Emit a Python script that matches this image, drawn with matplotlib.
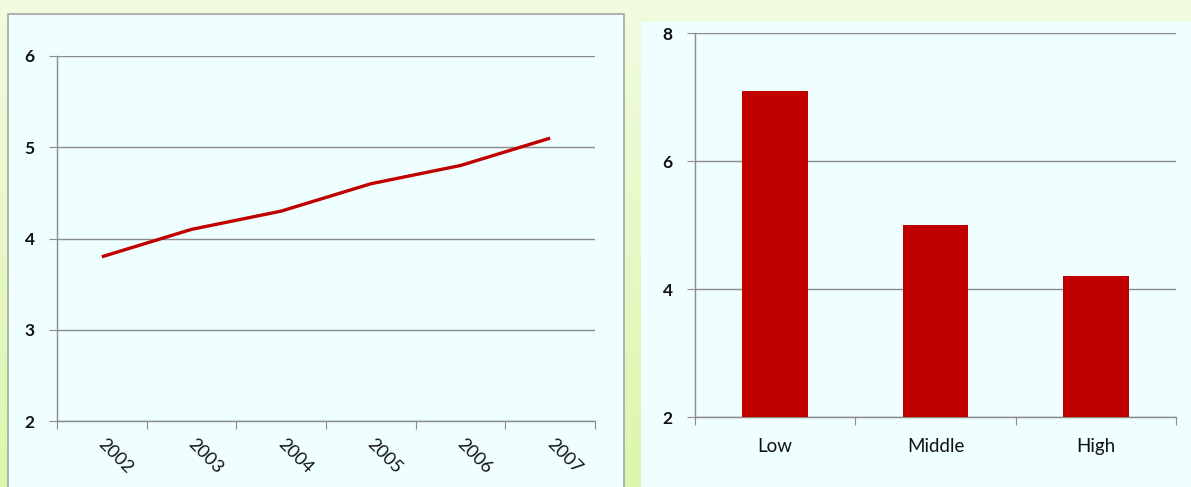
import numpy as np
import matplotlib
matplotlib.use("Agg")
import matplotlib.pyplot as plt
from matplotlib.patches import Rectangle
from matplotlib.colors import LinearSegmentedColormap
from matplotlib.transforms import ScaledTranslation

years = ["2002", "2003", "2004", "2005", "2006", "2007"]
line_values = [3.8, 4.1, 4.3, 4.6, 4.8, 5.1]
groups = ["Low", "Middle", "High"]
bar_values = [7.1, 5.0, 4.2]
left_yticks = [2, 3, 4, 5, 6]
right_yticks = [2, 4, 6, 8]

RED = "#c00000"
GRID = "#8c8c8c"
PANEL = "#effefe"
FONT = ["Lato", "DejaVu Sans"]

plt.rcParams["font.family"] = FONT

W, H = 1191, 487
fig = plt.figure(figsize=(W / 100, H / 100), dpi=100)

# background gradient
bg = fig.add_axes([0, 0, 1, 1], zorder=-10)
grad = np.linspace(0, 1, 256).reshape(-1, 1)
cmap = LinearSegmentedColormap.from_list("g", ["#f1fbe0", "#dcf6ac"])
bg.imshow(grad, aspect="auto", cmap=cmap, extent=[0, 1, 0, 1], origin="upper")
bg.set_axis_off()

# panels
fig.patches.append(Rectangle((8 / W, -0.05), 616 / W, 1.05 - 14 / H,
                             transform=fig.transFigure, facecolor=PANEL,
                             edgecolor="#a6a6a6", lw=1.2, zorder=-5))
fig.patches.append(Rectangle((641 / W, -0.05), 0.5, 1.05 - 22 / H,
                             transform=fig.transFigure, facecolor=PANEL,
                             edgecolor="none", zorder=-5))


def style(ax, yticks):
    ax.set_facecolor("none")
    for s in ["top", "right"]:
        ax.spines[s].set_visible(False)
    for s in ["left", "bottom"]:
        ax.spines[s].set_color(GRID)
        ax.spines[s].set_linewidth(1.0)
    ax.yaxis.grid(True, color=GRID, lw=1.0)
    ax.set_axisbelow(True)
    ax.set_yticks(yticks)
    ax.tick_params(axis="y", length=6, color=GRID, pad=10, labelsize=12.5,
                   labelcolor="#111111")


# left line chart
ax1 = fig.add_axes([57 / W, 1 - 421 / H, 538 / W, 365 / H])
x = np.arange(len(years))
ax1.plot(x, line_values, color=RED, lw=2.4, solid_capstyle="butt", zorder=3)
ax1.set_xlim(-0.5, len(years) - 0.5)
ax1.set_ylim(2, 6)
ax1.set_xticks(np.arange(-0.5, len(years)), minor=False)
ax1.set_xticklabels([])
ax1.set_xticks(x, minor=True)
ax1.set_xticklabels(years, minor=True, rotation=-45, ha="left", va="top",
                    rotation_mode="anchor", fontsize=13, color="#111111")
ax1.tick_params(axis="x", which="major", length=6, color=GRID)
ax1.tick_params(axis="x", which="minor", length=0, pad=11)
shift = ScaledTranslation(5 / 100, 0, fig.dpi_scale_trans)
for lab in ax1.get_xticklabels(minor=True):
    lab.set_transform(lab.get_transform() + shift)
style(ax1, left_yticks)

# right bar chart
ax2 = fig.add_axes([695 / W, 1 - 417 / H, 481 / W, 384 / H])
xb = np.arange(len(groups))
ax2.bar(xb, [v - 2 for v in bar_values], bottom=2, width=0.41, color=RED,
        zorder=3)
ax2.set_xlim(-0.5, len(groups) - 0.5)
ax2.set_ylim(2, 8)
ax2.set_xticks(np.arange(-0.5, len(groups)), minor=False)
ax2.set_xticklabels([])
ax2.set_xticks(xb, minor=True)
ax2.set_xticklabels(groups, minor=True, fontsize=13.5, color="#111111")
ax2.tick_params(axis="x", which="major", length=6, color=GRID)
ax2.tick_params(axis="x", which="minor", length=0, pad=15)
style(ax2, right_yticks)

fig.canvas.draw()
for ax in (ax1, ax2):
    for t in ax.yaxis.get_ticklabels():
        t.set_fontweight("bold")
        t.set_family(["Lato", "DejaVu Sans"])

fig.savefig("out.png", dpi=100)
